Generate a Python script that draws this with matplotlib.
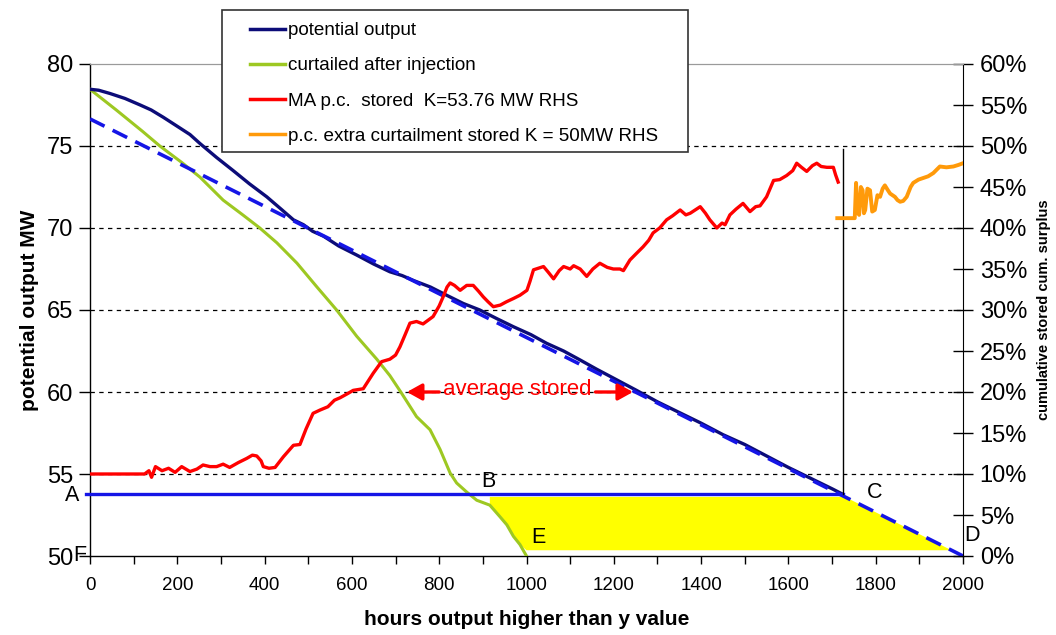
import numpy as np
import matplotlib
matplotlib.use("Agg")
from matplotlib import pyplot as plt
from matplotlib.lines import Line2D
from matplotlib.patches import Rectangle, Polygon

plt.rcParams['font.family'] = ['Liberation Sans', 'DejaVu Sans']

# data #####################################################################
# potential output (MW) vs hours
pot_h = [0, 20, 46, 80, 115, 140, 168, 200, 229, 252, 290, 328, 365, 405, 440, 466,
         489, 510, 535, 570, 611, 650, 687, 715, 741, 780, 817, 855, 893, 930, 970,
         1010, 1046, 1085, 1123, 1160, 1199, 1252, 1300, 1350, 1400, 1450, 1500,
         1550, 1600, 1650, 1700, 1725]
pot_y = [78.46, 78.4, 78.2, 77.9, 77.5, 77.2, 76.75, 76.2, 75.7, 75.15, 74.3, 73.5,
         72.7, 71.9, 71.1, 70.5, 70.2, 69.8, 69.5, 68.9, 68.35, 67.8, 67.33, 67.1,
         66.8, 66.4, 65.9, 65.4, 65.0, 64.5, 63.98, 63.5, 62.97, 62.5, 61.95, 61.4,
         60.85, 60.1, 59.4, 58.75, 58.1, 57.4, 56.8, 56.1, 55.4, 54.75, 54.1, 53.76]

# curtailed after injection (MW)
cur_h = [0, 60, 120, 160, 210, 252, 305, 350, 389, 428, 474, 520, 565, 611, 657, 687,
         712, 748, 779, 802, 825, 840, 863, 886, 916, 939, 955, 970, 985, 1000]
cur_y = [78.46, 77.2, 75.9, 75.0, 74.0, 73.1, 71.7, 70.8, 70.0, 69.1, 67.86, 66.4,
         65.0, 63.4, 62.0, 61.0, 60.0, 58.5, 57.7, 56.5, 55.06, 54.45, 53.9, 53.4,
         53.1, 52.4, 51.9, 51.2, 50.7, 50.0]

# MA p.c. stored (%), right hand scale
ma_h = [0, 125, 135, 141, 150, 165, 180, 195, 210, 229, 245, 259, 275, 290, 305, 320,
        340, 359, 372, 382, 392, 397, 410, 424, 443, 466, 481, 495, 511, 527, 545,
        560, 573, 590, 603, 626, 649, 668, 687, 700, 710, 722, 733, 748, 763, 786,
        800, 809, 818, 825, 835, 848, 863, 878, 890, 901, 912, 924, 940, 954, 970,
        985, 1001, 1008, 1016, 1039, 1050, 1062, 1075, 1085, 1100, 1108, 1123, 1138,
        1152, 1168, 1185, 1199, 1214, 1222, 1237, 1250, 1267, 1280, 1290, 1305, 1321,
        1335, 1352, 1365, 1375, 1398, 1410, 1420, 1436, 1448, 1455, 1466, 1480, 1496,
        1512, 1525, 1535, 1550, 1566, 1580, 1596, 1610, 1619, 1630, 1642, 1655, 1665,
        1675, 1688, 1703, 1708, 1714]
ma_pc = [10.0, 10.0, 10.4, 9.6, 10.9, 10.4, 10.7, 10.2, 10.9, 10.3, 10.6, 11.1, 10.9,
         10.9, 11.2, 10.8, 11.4, 11.9, 12.3, 12.2, 11.6, 10.9, 10.7, 10.8, 12.1, 13.5,
         13.6, 15.5, 17.4, 17.8, 18.2, 19.0, 19.3, 19.8, 20.2, 20.4, 22.3, 23.7, 24.0,
         24.5, 25.5, 27.0, 28.4, 28.6, 28.3, 29.2, 30.5, 31.6, 32.8, 33.3, 33.0, 32.4,
         33.0, 33.0, 32.3, 31.6, 31.0, 30.4, 30.6, 31.0, 31.4, 31.8, 32.4, 33.5, 34.9,
         35.3, 34.6, 33.8, 34.8, 35.3, 35.0, 35.4, 35.0, 34.1, 35.0, 35.7, 35.2, 35.0,
         35.0, 34.8, 36.1, 36.8, 37.7, 38.5, 39.4, 40.0, 41.0, 41.5, 42.2, 41.6, 41.8,
         42.6, 41.8, 41.0, 40.0, 40.6, 40.4, 41.6, 42.3, 43.0, 42.0, 42.6, 42.7, 43.8,
         45.8, 45.9, 46.4, 47.0, 47.9, 47.4, 46.9, 47.6, 47.9, 47.5, 47.4, 47.4, 46.5,
         45.6]

# p.c. extra curtailment stored (%), right hand scale
ex_h = [1712, 1752, 1755, 1758, 1762, 1766, 1770, 1773, 1776, 1781, 1787, 1792, 1798,
        1804, 1810, 1816, 1821, 1828, 1833, 1844, 1850, 1856, 1863, 1871, 1880, 1886,
        1898, 1909, 1920, 1932, 1947, 1962, 1978, 1990, 2000]
ex_pc = [41.2, 41.2, 45.5, 42.0, 41.6, 45.0, 44.6, 41.8, 42.2, 44.8, 44.6, 42.0, 42.2,
         44.0, 43.8, 44.8, 45.2, 44.6, 44.2, 43.8, 43.4, 43.2, 43.3, 43.8, 45.0, 45.5,
         45.9, 46.1, 46.3, 46.7, 47.5, 47.4, 47.5, 47.7, 47.9]

# dashed trend line through C and D
trend_h = [0, 2000]
trend_y = [76.65, 50.0]

k_level = 53.76      # MW, A-B-C
c_hour = 1725
vline_top = 74.8
shade_from = 916     # yellow area: hours where shading starts
shade_top = 53.6
shade_floor = 50.35

y_ticks = [50, 55, 60, 65, 70, 75, 80]
grid_levels = [55, 60, 65, 70, 75]
pc_ticks = np.arange(0, 61, 5)

navy = '#0c0c78'
green = '#9dc822'
red = '#ff0000'
orange = '#ff9a0a'
blue = '#1515e6'

##########################################################################################

fig = plt.figure(figsize=(10.56, 6.35), dpi=100)
ax = fig.add_axes([90/1056, 1-556/635, 873/1056, 492/635])
ax.set_xlim(0, 2000)
ax.set_ylim(50, 80)

for g in grid_levels:
    ax.axhline(g, color='black', lw=0.9, ls=(0, (3.5, 3.5)), zorder=1)

### yellow area built from green curve, K level and trend line
trend_at = lambda y: np.interp(y, trend_y[::-1], trend_h[::-1])
gh = np.array(cur_h)
gy = np.array(cur_y)
m = gh >= shade_from
poly_x = [shade_from, trend_at(shade_top), trend_at(shade_floor)] + list(gh[m][::-1])
poly_y = [shade_top, shade_top, shade_floor] + list(np.maximum(gy[m][::-1], shade_floor))
ax.add_patch(Polygon(np.column_stack([poly_x, poly_y]), closed=True,
                     facecolor='#ffff00', edgecolor='none', zorder=2))

ax.plot(cur_h, cur_y, color=green, lw=2.2, zorder=3)
ax.plot(pot_h, pot_y, color=navy, lw=2.4, zorder=4)
ax.plot(trend_h, trend_y, color=blue, lw=2.6, ls=(0, (4.5, 2.5)), zorder=5)
ax.plot([-9, c_hour], [k_level, k_level], color=blue, lw=2.4, zorder=5, clip_on=False)
ax.plot([c_hour, c_hour], [k_level, vline_top], color='black', lw=1.0, zorder=5)

### letters
lbl = dict(fontsize=15.5, color='black', zorder=6)
ax.text(-40, k_level - 0.05, 'A', ha='center', va='center', clip_on=False, **lbl)
ax.text(-24, 50.05, 'F', ha='center', va='center', clip_on=False, **lbl)
ax.text(912, 54.55, 'B', ha='center', va='center', **lbl)
ax.text(1798, 53.85, 'C', ha='center', va='center', **lbl)
ax.text(2020, 51.25, 'D', ha='center', va='center', clip_on=False, **lbl)
ax.text(1027, 51.15, 'E', ha='center', va='center', **lbl)

### average stored arrows
ax.text(979, 60.15, 'average stored', color=red, fontsize=16, ha='center', va='center', zorder=7)
arr = dict(arrowstyle='-|>,head_length=0.9,head_width=0.5', color=red, lw=2.4,
           shrinkA=0, shrinkB=0)
ax.annotate('', xy=(726, 60.0), xytext=(800, 60.0), arrowprops=arr, zorder=7)
ax.annotate('', xy=(1244, 60.0), xytext=(1158, 60.0), arrowprops=arr, zorder=7)

### axes styling
ax.set_xticks(np.arange(0, 2001, 200))
ax.set_xticks(np.arange(0, 2001, 100), minor=True)
ax.set_yticks(y_ticks)
ax.tick_params(axis='x', which='both', direction='out', length=6, width=1, labelsize=13.5, pad=9)
ax.tick_params(axis='y', direction='out', length=8, width=1, labelsize=17, pad=4)
ax.spines['top'].set_color('#9a9a9a')
ax.spines['right'].set_visible(False)
for s in ['left', 'bottom']:
    ax.spines[s].set_linewidth(1.0)
ax.set_xlabel('hours output higher than y value', fontsize=15, fontweight='bold')
ax.xaxis.set_label_coords(0.5, -0.11)
ax.set_ylabel('potential output MW', fontsize=15, fontweight='bold')
ax.yaxis.set_label_coords(-0.058, 0.5)

### right hand scale
ax2 = ax.twinx()
ax2.set_ylim(0, 0.6)
ax2.plot(ma_h, np.array(ma_pc)/100, color=red, lw=2.4, zorder=3)
ax2.plot(ex_h, np.array(ex_pc)/100, color=orange, lw=2.8, zorder=3)
ax2.set_yticks(pc_ticks/100)
ax2.set_yticklabels(['%d%%' % v for v in pc_ticks])
ax2.tick_params(axis='y', direction='inout', length=14, width=1, labelsize=17, pad=5)
ax2.spines['top'].set_color('#9a9a9a')
ax2.spines['left'].set_visible(False)
ax2.spines['bottom'].set_visible(False)
ax2.set_ylabel('cumulative stored cum. surplus', fontsize=10.5, fontweight='bold')
ax2.yaxis.set_label_coords(1.085, 0.5)

### legend with own frame
fig.patches.append(Rectangle((222/1056, 1-152/635), 466/1056, 142/635,
                             transform=fig.transFigure, facecolor='white',
                             edgecolor='#333333', lw=1.2, zorder=4))
handles = [Line2D([], [], color=c, lw=2.5) for c in [navy, green, red, orange]]
labels = ['potential output', 'curtailed after injection',
          'MA p.c.  stored  K=53.76 MW RHS', 'p.c. extra curtailment stored K = 50MW RHS']
fig.legend(handles, labels, loc='upper left', bbox_to_anchor=(250/1056, 1-22/635),
           frameon=False, fontsize=13.6, borderpad=0, handlelength=1.85,
           handletextpad=0.15, labelspacing=0.95, borderaxespad=0)

fig.savefig('out.png', dpi=100)
